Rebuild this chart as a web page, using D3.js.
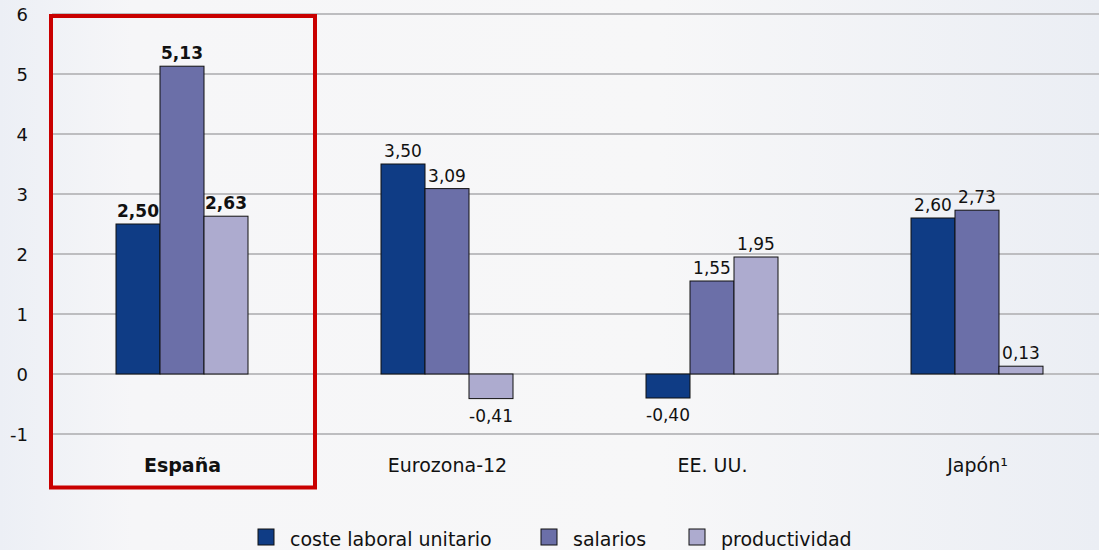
<!DOCTYPE html>
<html>
<head>
  <meta charset="UTF-8" />
  <title>coste laboral unitario</title>
  <script src="https://cdn.jsdelivr.net/npm/d3@7/dist/d3.min.js"></script>
</head>
<style>
  body { margin: 0; background: #f4f5f8; }
  svg { display: block; font-family: Tahoma, "DejaVu Sans", sans-serif; }
</style>
<body>
  <svg width="1099" height="550"></svg>
  <script>
    // datos
    var categories = ["España", "Eurozona-12", "EE. UU.", "Japón¹"];
    var series = ["coste laboral unitario", "salarios", "productividad"];
    var costeLaboral = [2.50, 3.50, -0.40, 2.60];
    var salarios = [5.13, 3.09, 1.55, 2.73];
    var productividad = [2.63, -0.41, 1.95, 0.13];
    var yTicks = [-1, 0, 1, 2, 3, 4, 5, 6];

    var colors = ["#0f3c85", "#6b6fa8", "#adabcf"];
    var values = [costeLaboral, salarios, productividad];

    var svg = d3.select("svg");
    var width = +svg.attr("width");
    var height = +svg.attr("height");

    // fondo
    var defs = svg.append("defs");
    var grad = defs.append("linearGradient").attr("id", "bg");
    grad.append("stop").attr("offset", "0%").attr("stop-color", "#eceff5");
    grad.append("stop").attr("offset", "12%").attr("stop-color", "#f6f6f8");
    grad.append("stop").attr("offset", "60%").attr("stop-color", "#f7f7f8");
    grad.append("stop").attr("offset", "100%").attr("stop-color", "#ebeef4");
    svg.append("rect").attr("width", width).attr("height", height).attr("fill", "url(#bg)");

    var x0 = d3.scaleBand().domain(categories).range([50, 1110]);
    var x1 = d3.scaleBand().domain(series).range([66, 198]);
    var y = d3.scaleLinear().domain([-1, 6]).range([434, 14]);

    // rejilla
    svg.append("g")
      .selectAll("line")
      .data(yTicks)
      .enter()
      .append("line")
      .attr("x1", 52)
      .attr("x2", width)
      .attr("y1", d => y(d))
      .attr("y2", d => y(d))
      .attr("stroke", "#bdbdc0")
      .attr("stroke-width", 2);

    // eje y
    svg.append("g")
      .selectAll("text")
      .data(yTicks)
      .enter()
      .append("text")
      .attr("x", 28)
      .attr("y", d => y(d) + 7)
      .attr("text-anchor", "end")
      .attr("font-size", 18)
      .attr("fill", "#111")
      .text(d => d);

    // barras
    var groups = svg.append("g")
      .selectAll("g")
      .data(categories)
      .enter()
      .append("g")
      .attr("transform", d => "translate(" + x0(d) + ",0)");

    var fmt = v => d3.format(".2f")(v).replace(".", ",").replace("−", "-");

    groups.each(function (cat, ci) {
      var g = d3.select(this);
      series.forEach(function (s, si) {
        var v = values[si][ci];
        g.append("rect")
          .attr("x", x1(s))
          .attr("y", y(Math.max(0, v)))
          .attr("width", x1.bandwidth())
          .attr("height", Math.abs(y(v) - y(0)))
          .attr("fill", colors[si])
          .attr("stroke", "#111")
          .attr("stroke-width", 1);
        g.append("text")
          .attr("x", x1(s) + x1.bandwidth() / 2)
          .attr("y", v >= 0 ? y(v) - 7 : y(v) + 23)
          .attr("text-anchor", "middle")
          .attr("font-size", 17)
          .attr("font-weight", ci === 0 ? "bold" : "normal")
          .attr("fill", "#111")
          .text(fmt(v));
      });
    });

    // eje x
    svg.append("g")
      .selectAll("text")
      .data(categories)
      .enter()
      .append("text")
      .attr("x", d => x0(d) + x0.bandwidth() / 2)
      .attr("y", 472)
      .attr("text-anchor", "middle")
      .attr("font-size", 19)
      .attr("font-weight", (d, i) => i === 0 ? "bold" : "normal")
      .attr("fill", "#111")
      .text(d => d);

    // recuadro España
    svg.append("rect")
      .attr("x", x0("España") + 1)
      .attr("y", 16)
      .attr("width", x0.bandwidth() - 1)
      .attr("height", 471.5)
      .attr("fill", "none")
      .attr("stroke", "#c90000")
      .attr("stroke-width", 4);

    // leyenda
    var legendX = [258, 541, 689];
    var legend = svg.append("g")
      .selectAll("g")
      .data(series)
      .enter()
      .append("g")
      .attr("transform", (d, i) => "translate(" + legendX[i] + ",529)");
    legend.append("rect")
      .attr("width", 16)
      .attr("height", 16)
      .attr("fill", (d, i) => colors[i])
      .attr("stroke", "#111")
      .attr("stroke-width", 1);
    legend.append("text")
      .attr("x", 32)
      .attr("y", 17)
      .attr("font-size", 19)
      .attr("fill", "#111")
      .text(d => d);
  </script>
</body>
</html>
